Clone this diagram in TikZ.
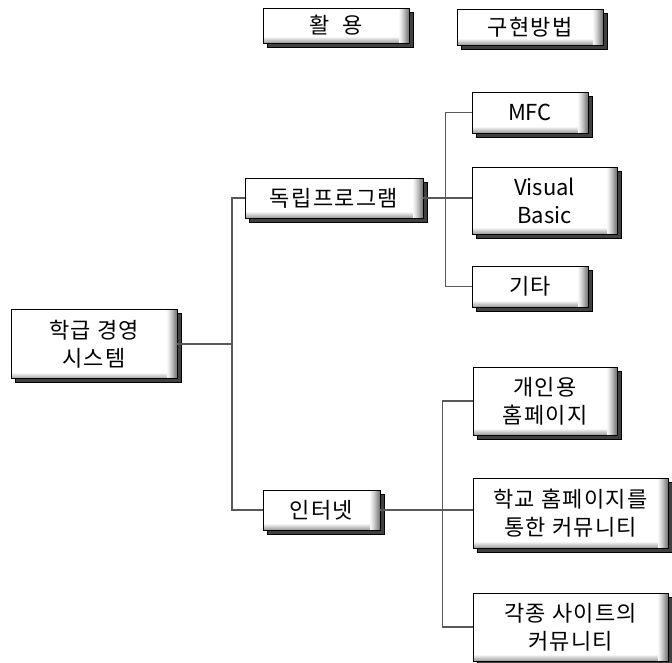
\documentclass[tikz,border=0pt]{standalone}
\usepackage{fontspec}
\setmainfont[LetterSpace=6]{Noto Sans CJK KR}
\newfontfamily\latinfont{Noto Sans CJK KR}
\usetikzlibrary{shadows}
\tikzset{
  box/.style={draw=black, line width=0.8pt, fill=white, inner sep=0pt, align=center,
    font=\fontsize{22}{28}\selectfont, text=black,
    drop shadow={shadow xshift=4pt, shadow yshift=-4pt, fill=black!75, draw=black, opacity=1},
    path picture={
      \foreach \w/\c in {6/4,5/10,4/16,3/22,2/28,1/34} {
        \fill[black!\c] ([yshift=\w pt]path picture bounding box.south west) rectangle (path picture bounding box.south east);
      }
      \foreach \w/\c in {10/3,9/7,8/11,7/16,6/21,5/27,4/33,3/39,2/45,1/50} {
        \fill[black!\c] ([xshift=-\w pt]path picture bounding box.north east) rectangle (path picture bounding box.south east);
      }
    }},
  latinbox/.style={box, font=\fontsize{22}{28}\latinfont},
  link/.style={draw=black!65, line width=1.3pt}
}
\begin{document}
\begin{tikzpicture}[x=1pt,y=-1pt]
\useasboundingbox (0,0) rectangle (672,663);
\node[box, minimum width=146pt, minimum height=35pt] (hw) at (336,25.5) {활\hspace{0.6em}용};
\node[box, minimum width=146pt, minimum height=36pt] (gh) at (530,27) {구현방법};
\node[box, minimum width=166pt, minimum height=69pt] (main) at (94,344) {학급 경영\\시스템};
\node[box, minimum width=178pt, minimum height=40pt] (dok) at (334,198) {독립프로그램};
\node[latinbox, minimum width=116pt, minimum height=41pt] (mfc) at (530,112.5) {MFC};
\node[latinbox, minimum width=145pt, minimum height=67pt] (vb) at (544.5,200.5) {Visual\\Basic};
\node[box, minimum width=116pt, minimum height=41pt] (gita) at (530,286.5) {기타};
\node[box, minimum width=117pt, minimum height=40pt] (inet) at (321.5,510) {인터넷};
\node[box, minimum width=144pt, minimum height=68pt] (gein) at (545,401) {개인용\\홈페이지};
\node[box, minimum width=195pt, minimum height=70pt] (hak) at (570.5,513) {학교 홈페이지를\\통한 커뮤니티};
\node[box, minimum width=195pt, minimum height=68pt] (gak) at (570.5,627) {각종 사이트의\\커뮤니티};
\coordinate (t1) at (232,0);
\draw[link] (main.east) -- (main.east -| t1);
\draw[link] (dok.west) -- (dok.west -| t1) |- (inet.west);
\draw[link] (mfc.west) -- ++(-26,0) |- (gita.west);
\draw[link] (dok.east) -- (dok.east -| vb.west);
\draw[link] (gein.west) -- ++(-30,0) |- (gak.west);
\draw[link] (inet.east) -- (inet.east -| hak.west);
\end{tikzpicture}
\end{document}
